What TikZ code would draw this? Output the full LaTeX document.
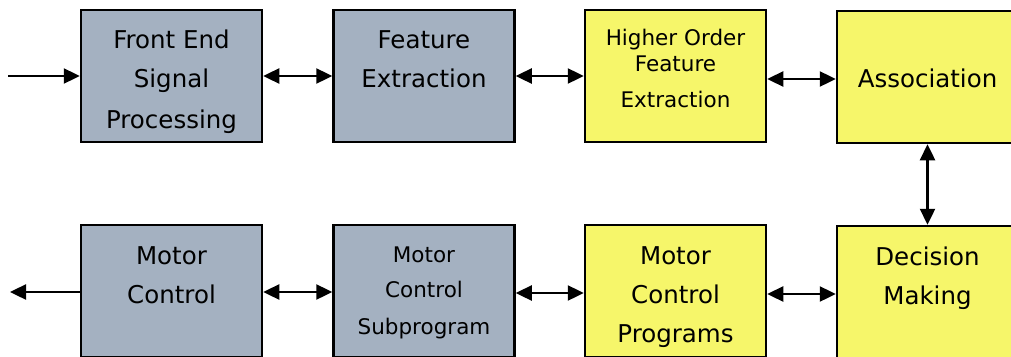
\documentclass[tikz,border=0pt]{standalone}
\usepackage{fontspec}
\setmainfont{DejaVu Sans}
\usetikzlibrary{arrows.meta}
\definecolor{boxgray}{RGB}{164,177,193}
\definecolor{boxyellow}{RGB}{246,246,106}
\begin{document}
\begin{tikzpicture}[x=1pt,y=-1pt,
  blk/.style={draw=black, line width=2.5pt, minimum width=181pt, minimum height=132pt, inner sep=0pt, anchor=center},
  gbox/.style={blk, fill=boxgray},
  ybox/.style={blk, fill=boxyellow},
  big/.style={font=\fontsize{24.5}{28}\selectfont, inner sep=0pt, anchor=base},
  small/.style={font=\fontsize{21.5}{25}\selectfont, inner sep=0pt, anchor=base},
  tip/.tip={Triangle[length=16pt,width=15pt]},
  link/.style={line width=2.4pt, tip-tip},
  oneway/.style={line width=2.4pt, -tip}
]
\useasboundingbox (0,0) rectangle (1011,356);
% top row
\node[gbox] (b1) at (171.5,76) {};
\node[gbox] (b2) at (424,76) {};
\node[ybox] (b3) at (675.5,76) {};
\node[ybox] (b4) at (927.5,77) {};
% bottom row
\node[gbox] (c1) at (171.5,291) {};
\node[gbox] (c2) at (424,291) {};
\node[ybox] (c3) at (675.5,291) {};
\node[ybox] (c4) at (927.5,292) {};
% labels
\node[big] (t1a) at (171.5,48) {Front End};
\node[big] (t1b) at (171.5,87) {Signal};
\node[big] (t1c) at (171.5,128) {Processing};
\node[big] (t2a) at (424,48) {Feature};
\node[big] (t2b) at (424,87) {Extraction};
\node[small] (t3a) at (675.5,45) {Higher Order};
\node[small] (t3b) at (675.5,71) {Feature};
\node[small] (t3c) at (675.5,107) {Extraction};
\node[big] (t4a) at (927.5,87) {Association};
\node[big] (u1a) at (171.5,264) {Motor};
\node[big] (u1b) at (171.5,303) {Control};
\node[small] (u2a) at (424,262) {Motor};
\node[small] (u2b) at (424,297) {Control};
\node[small] (u2c) at (424,334) {Subprogram};
\node[big] (u3a) at (675.5,264) {Motor};
\node[big] (u3b) at (675.5,303) {Control};
\node[big] (u3c) at (675.5,342) {Programs};
\node[big] (u4a) at (927.5,265) {Decision};
\node[big] (u4b) at (927.5,304) {Making};
% connectors
\coordinate (in) at (8,76);
\coordinate (out) at (10,292);
\draw[oneway] (in) -- (b1.west);
\draw[link] (b1.east) -- (b2.west);
\draw[link] (b2.east) -- (b3.west);
\draw[link] ([yshift=-3pt]b3.east) -- ([yshift=-2pt]b4.west);
\draw[link] (b4.south) -- (c4.north);
\draw[link] ([yshift=-3pt]c3.east) -- ([yshift=-2pt]c4.west);
\draw[link] ([yshift=-1pt]c1.east) -- ([yshift=-1pt]c2.west);
\draw[link] ([yshift=-2pt]c2.east) -- ([yshift=-2pt]c3.west);
\draw[oneway] ([yshift=-1pt]c1.west) -- (out);
\end{tikzpicture}
\end{document}
